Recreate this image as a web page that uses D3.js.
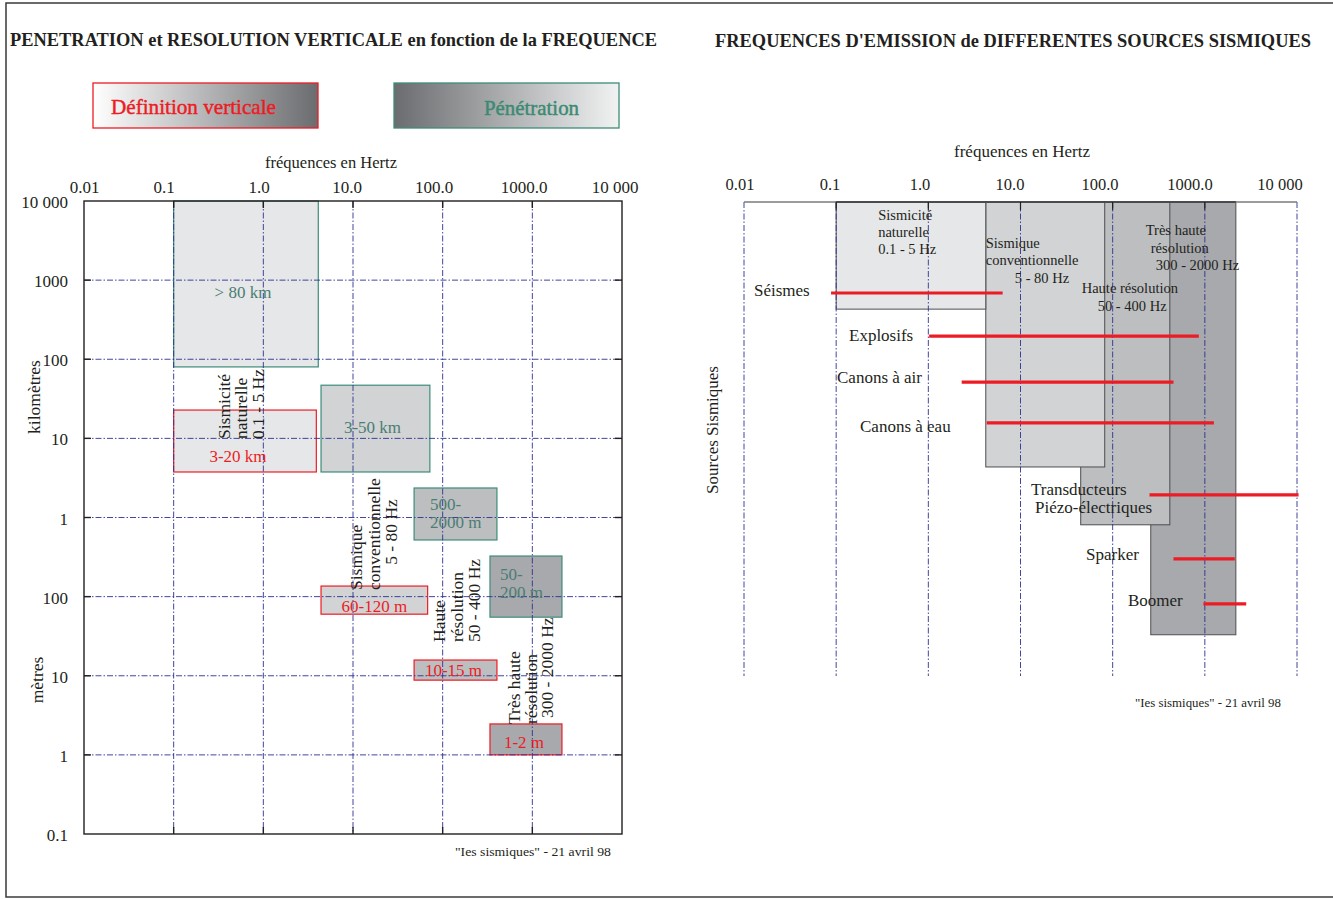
<!DOCTYPE html>
<html><head><meta charset="utf-8">
<script src="https://cdn.jsdelivr.net/npm/d3@7"></script>
<style>
body{margin:0;background:#fff}
svg{display:block}
text{font-family:"Liberation Serif","Times New Roman",Times,serif;fill:#231f20}
</style>
</head><body>
<svg id="c" width="1333" height="899" font-family="Liberation Serif, Times New Roman, serif"></svg>
<script>
// ================= DATA =================
const freqTicks = [0.01, 0.1, 1, 10, 100, 1000, 10000];
const freqTickLabels = ["0.01", "0.1", "1.0", "10.0", "100.0", "1000.0", "10 000"];
const depthTicks = [1e7, 1e6, 1e5, 1e4, 1e3, 100, 10, 1, 0.1];           // metres
const depthTickLabels = ["10 000", "1000", "100", "10", "1", "100", "10", "1", "0.1"];

const bands = ["Sismicité naturelle", "Sismique conventionnelle", "Haute résolution", "Très haute résolution"];
const bandLabelLines = [["Sismicité", "naturelle", "0.1 - 5 Hz"], ["Sismique", "conventionnelle", "5 - 80 Hz"],
                        ["Haute", "résolution", "50 - 400 Hz"], ["Très haute", "résolution", "300 - 2000 Hz"]];
// Penetration (depth in metres)
const penFreqMin = [0.1, 4.4, 48, 337];
const penFreqMax = [4.1, 72, 403, 2140];
const penDepthMin = [80000, 3760, 520, 55];
const penDepthMax = [1e7, 47000, 2360, 326];
const penLabels = [["> 80 km"], ["3-50 km"], ["500-", "2000 m"], ["50-", "200 m"]];
// Vertical definition (depth in metres)
const defFreqMin = [0.1, 4.4, 48, 337];
const defFreqMax = [3.9, 68, 403, 2140];
const defDepthMin = [3760, 60, 8.8, 1.0];
const defDepthMax = [22800, 136, 15.8, 2.46];
const defLabels = ["3-20 km", "60-120 m", "10-15 m", "1-2 m"];

// Right chart: emission bands
const emitFreqMin = [0.1, 4.2, 45, 259];
const emitFreqMax = [4.2, 82, 417, 2170];
const emitRowEnd = [2.26, 5.59, 6.81, 9.13];
const emitLabelLines = [["Sismicité", "naturelle", "0.1 - 5 Hz"], ["Sismique", "conventionnelle", "5 - 80 Hz"],
                        ["Haute résolution", "50 - 400 Hz"], ["Très haute", "résolution", "300 - 2000 Hz"]];
// Right chart: seismic sources
const sourceLabelLines = [["Séismes"], ["Explosifs"], ["Canons à air"], ["Canons à eau"],
                          ["Transducteurs", "Piézo-électriques"], ["Sparker"], ["Boomer"]];
const sourceFreqMin = [0.088, 1.02, 2.3, 4.3, 251, 457, 966];
const sourceFreqMax = [6.4, 861, 457, 1254, 10400, 2113, 2810];
const sourceRow = [1.92, 2.83, 3.8, 4.66, 6.18, 7.53, 8.48];

// ================= STYLE / LAYOUT =================
const C = {ink: "#231f20", grid: "#2e3192", red: "#ed1c24", teal: "#3d8c7a", tealText: "#4b7d73",
           fills: ["#e6e7e8", "#d1d3d4", "#bcbec0", "#a7a9ac"]};
const dash = "6,2,1.5,2";
const svg = d3.select("#c");

// outer frame
svg.append("rect").attr("x", 6).attr("y", 3).attr("width", 1334).attr("height", 894)
  .attr("fill", "none").attr("stroke", "#3a3a3a").attr("stroke-width", 1.5);

// titles
svg.append("text").attr("x", 10).attr("y", 46).attr("font-size", 19).attr("font-weight", "bold")
  .attr("textLength", 647).attr("lengthAdjust", "spacingAndGlyphs")
  .text("PENETRATION et RESOLUTION VERTICALE en fonction de la FREQUENCE");
svg.append("text").attr("x", 715).attr("y", 47).attr("font-size", 19).attr("font-weight", "bold")
  .attr("textLength", 596).attr("lengthAdjust", "spacingAndGlyphs")
  .text("FREQUENCES D'EMISSION de DIFFERENTES SOURCES SISMIQUES");

// legend
const defs = svg.append("defs");
const g1 = defs.append("linearGradient").attr("id", "gDef");
g1.append("stop").attr("offset", "0%").attr("stop-color", "#ffffff");
g1.append("stop").attr("offset", "100%").attr("stop-color", "#6b6c6f");
const g2 = defs.append("linearGradient").attr("id", "gPen");
g2.append("stop").attr("offset", "0%").attr("stop-color", "#6b6c6f");
g2.append("stop").attr("offset", "100%").attr("stop-color", "#f1f2f2");
svg.append("rect").attr("x", 93).attr("y", 83).attr("width", 225).attr("height", 45)
  .attr("fill", "url(#gDef)").attr("stroke", C.red).attr("stroke-width", 1.3);
svg.append("text").attr("x", 111).attr("y", 114).attr("font-size", 21.5)
  .style("fill", C.red).style("stroke", C.red).style("stroke-width", 0.45)
  .attr("textLength", 165).attr("lengthAdjust", "spacingAndGlyphs").text("Définition verticale");
svg.append("rect").attr("x", 394).attr("y", 83).attr("width", 225).attr("height", 45)
  .attr("fill", "url(#gPen)").attr("stroke", C.teal).attr("stroke-width", 1.3);
svg.append("text").attr("x", 484).attr("y", 115).attr("font-size", 21.5)
  .style("fill", "#3b8a73").style("stroke", "#3b8a73").style("stroke-width", 0.45)
  .attr("textLength", 95).attr("lengthAdjust", "spacingAndGlyphs").text("Pénétration");

// ================= LEFT CHART =================
const L = {x0: 84, x1: 622, y0: 201, y1: 834};
const xL = d3.scaleLog().domain([0.01, 10000]).range([L.x0, L.x1]);
const yL = d3.scaleLog().domain([0.1, 1e7]).range([L.y1, L.y0]);
// tick labels in the original sit slightly left of their grid lines
const xLlab = d3.scaleLog().domain(freqTicks).range([84.6, 164, 259, 347, 434, 524, 615]);
const gL = svg.append("g");

gL.append("text").attr("x", 331).attr("y", 168).attr("text-anchor", "middle").attr("font-size", 16.5)
  .text("fréquences en Hertz");
gL.selectAll(".xl").data(freqTicks).join("text")
  .attr("x", d => xLlab(d)).attr("y", 193).attr("text-anchor", "middle").attr("font-size", 17)
  .text((d, i) => freqTickLabels[i]);
gL.selectAll(".yl").data(depthTicks).join("text")
  .attr("x", 68).attr("y", d => yL(d) + 7).attr("text-anchor", "end").attr("font-size", 17)
  .text((d, i) => depthTickLabels[i]);
gL.append("text").attr("transform", "translate(40,397) rotate(-90)").attr("text-anchor", "middle")
  .attr("font-size", 17.5).text("kilomètres");
gL.append("text").attr("transform", "translate(43,680) rotate(-90)").attr("text-anchor", "middle")
  .attr("font-size", 17.5).text("mètres");

// boxes: penetration
bands.forEach((b, i) => {
  const x0 = xL(penFreqMin[i]), x1 = xL(penFreqMax[i]);
  const y0 = yL(penDepthMax[i]), y1 = yL(penDepthMin[i]);
  gL.append("rect").attr("x", x0).attr("y", y0).attr("width", x1 - x0).attr("height", y1 - y0)
    .attr("fill", C.fills[i]).attr("stroke", C.teal).attr("stroke-width", 1.2);
});
// boxes: definition
bands.forEach((b, i) => {
  const x0 = xL(defFreqMin[i]), x1 = xL(defFreqMax[i]);
  const y0 = yL(defDepthMax[i]), y1 = yL(defDepthMin[i]);
  gL.append("rect").attr("x", x0).attr("y", y0).attr("width", x1 - x0).attr("height", y1 - y0)
    .attr("fill", C.fills[i]).attr("stroke", C.red).attr("stroke-width", 1.2);
});

// grid
const gridL = gL.append("g").attr("stroke", C.grid).attr("stroke-width", 0.9).attr("stroke-dasharray", dash);
freqTicks.slice(1, -1).forEach(f => {
  gridL.append("line").attr("x1", xL(f)).attr("x2", xL(f)).attr("y1", L.y0).attr("y2", L.y1);
});
depthTicks.slice(1, -1).forEach(d => {
  gridL.append("line").attr("x1", L.x0).attr("x2", L.x1).attr("y1", yL(d)).attr("y2", yL(d));
});
// frame and ticks
gL.append("rect").attr("x", L.x0).attr("y", L.y0).attr("width", L.x1 - L.x0).attr("height", L.y1 - L.y0)
  .attr("fill", "none").attr("stroke", C.ink).attr("stroke-width", 1.4);
const tk = gL.append("g").attr("stroke", C.ink).attr("stroke-width", 1.4);
freqTicks.slice(1, -1).forEach(f => {
  tk.append("line").attr("x1", xL(f)).attr("x2", xL(f)).attr("y1", L.y0).attr("y2", L.y0 + 7);
  tk.append("line").attr("x1", xL(f)).attr("x2", xL(f)).attr("y1", L.y1).attr("y2", L.y1 - 7);
});
depthTicks.slice(1, -1).forEach(d => {
  tk.append("line").attr("x1", L.x0).attr("x2", L.x0 + 7).attr("y1", yL(d)).attr("y2", yL(d));
  tk.append("line").attr("x1", L.x1).attr("x2", L.x1 - 7).attr("y1", yL(d)).attr("y2", yL(d));
});

// box labels
const penDx = [-3, -3, 0, 0], penDy = [8, -2, 0, 0];
bands.forEach((b, i) => {
  const x0 = xL(penFreqMin[i]), x1 = xL(penFreqMax[i]);
  const y0 = yL(penDepthMax[i]), y1 = yL(penDepthMin[i]);
  const lines = penLabels[i];
  if (lines.length === 1) {
    gL.append("text").attr("x", (x0 + x1) / 2 + penDx[i]).attr("y", (y0 + y1) / 2 + 6 + penDy[i])
      .attr("text-anchor", "middle").attr("font-size", 17).style("fill", C.tealText).text(lines[0]);
  } else {
    const sx = i === 2 ? 16 : 10;
    lines.forEach((t, k) => {
      gL.append("text").attr("x", x0 + sx).attr("y", (y0 + y1) / 2 - 4 + k * 18 + (i === 3 ? -3 : 0))
        .attr("font-size", 17).style("fill", C.tealText).text(t);
    });
  }
});
const defDx = [-7, 0, -2, -2], defDy = [15, 6, 0, 3];
bands.forEach((b, i) => {
  const x0 = xL(defFreqMin[i]), x1 = xL(defFreqMax[i]);
  const y0 = yL(defDepthMax[i]), y1 = yL(defDepthMin[i]);
  gL.append("text").attr("x", (x0 + x1) / 2 + defDx[i]).attr("y", (y0 + y1) / 2 + 6 + defDy[i])
    .attr("text-anchor", "middle").attr("font-size", 17).style("fill", C.red).text(defLabels[i]);
});

// rotated band labels: [baseline x, start y, anchor]
const bandLabelPos = [
  [[230, 439, "start"], [247, 439, "start"], [264, 439, "start"]],
  [[362, 590, "start"], [380, 590, "start"], [397, 532, "middle"]],
  [[445, 642, "start"], [463, 642, "start"], [480, 642, "start"]],
  [[520, 724, "start"], [537, 724, "start"], [553, 718, "start"]]
];
bandLabelLines.forEach((lines, i) => {
  lines.forEach((t, k) => {
    const p = bandLabelPos[i][k];
    gL.append("text").attr("transform", `translate(${p[0]},${p[1]}) rotate(-90)`)
      .attr("text-anchor", p[2]).attr("font-size", 17.5).text(t);
  });
});
gL.append("text").attr("x", 455).attr("y", 856).attr("font-size", 13.5)
  .attr("textLength", 156).attr("lengthAdjust", "spacingAndGlyphs").text("\"Ies sismiques\" - 21 avril 98");

// ================= RIGHT CHART =================
const R = {x0: 744, x1: 1297, y0: 202, y1: 676};
const xR = d3.scaleLog().domain([0.01, 10000]).range([R.x0, R.x1]);
const xRlab = d3.scaleLog().domain([0.01, 10000]).range([740, 1280]);
const yR = d3.scaleLinear().domain([0, 10]).range([R.y0, R.y1]);
const gR = svg.append("g");

gR.append("text").attr("x", 1022).attr("y", 157).attr("text-anchor", "middle").attr("font-size", 17)
  .text("fréquences en Hertz");
gR.selectAll(".xr").data(freqTicks).join("text")
  .attr("x", d => xRlab(d)).attr("y", 190).attr("text-anchor", "middle").attr("font-size", 16.5)
  .text((d, i) => freqTickLabels[i]);
gR.append("text").attr("transform", "translate(718,430) rotate(-90)").attr("text-anchor", "middle")
  .attr("font-size", 17).text("Sources Sismiques");

// band boxes (back to front: highest frequency first)
[3, 2, 1, 0].forEach(i => {
  const x0 = xR(emitFreqMin[i]), x1 = xR(emitFreqMax[i]);
  gR.append("rect").attr("x", x0).attr("y", R.y0).attr("width", x1 - x0).attr("height", yR(emitRowEnd[i]) - R.y0)
    .attr("fill", C.fills[i]).attr("stroke", "#4d4d4f").attr("stroke-width", 1);
});
// grid
const gridR = gR.append("g").attr("stroke", C.grid).attr("stroke-width", 0.9).attr("stroke-dasharray", dash);
freqTicks.forEach(f => {
  gridR.append("line").attr("x1", xR(f)).attr("x2", xR(f)).attr("y1", R.y0).attr("y2", R.y1);
});
// axis line + ticks
gR.append("line").attr("x1", R.x0).attr("x2", R.x1).attr("y1", R.y0).attr("y2", R.y0)
  .attr("stroke", "#7a7a7c").attr("stroke-width", 1.6);
gR.append("line").attr("x1", xR(emitFreqMin[0])).attr("x2", xR(emitFreqMax[3])).attr("y1", R.y0).attr("y2", R.y0)
  .attr("stroke", "#3a3a3c").attr("stroke-width", 1.6);
freqTicks.slice(1, -1).forEach(f => {
  gR.append("line").attr("x1", xR(f)).attr("x2", xR(f)).attr("y1", R.y0).attr("y2", R.y0 + 8)
    .attr("stroke", C.ink).attr("stroke-width", 1.2);
});

// band labels: [dx from band left, dy from top] per line
const emitLabelPos = [
  [[42, 18], [42, 35], [42, 52]],
  [[0, 46], [0, 63], [29, 81]],
  [[1, 91], [17, 109]],
  [[-5, 33], [0, 51], [5, 68]]
];
emitLabelLines.forEach((lines, i) => {
  const x0 = xR(emitFreqMin[i]);
  lines.forEach((t, k) => {
    const p = emitLabelPos[i][k];
    gR.append("text").attr("x", x0 + p[0]).attr("y", R.y0 + p[1]).attr("font-size", 14.5).text(t);
  });
});

// source lines
sourceRow.forEach((r, i) => {
  gR.append("line").attr("x1", xR(sourceFreqMin[i])).attr("x2", xR(sourceFreqMax[i]))
    .attr("y1", yR(r)).attr("y2", yR(r)).attr("stroke", C.red).attr("stroke-width", 3.2);
});
// source labels: [start x, baseline dy relative to line]
const sourceLabelPos = [[754, 3], [849, 5], [837, 1], [860, 9], [1031, 0], [1086, 1], [1128, 2]];
sourceLabelLines.forEach((lines, i) => {
  lines.forEach((t, k) => {
    gR.append("text").attr("x", sourceLabelPos[i][0] + k * 4).attr("y", yR(sourceRow[i]) + sourceLabelPos[i][1] + k * 18)
      .attr("font-size", 17).text(t);
  });
});
gR.append("text").attr("x", 1135).attr("y", 707).attr("font-size", 13)
  .attr("textLength", 146).attr("lengthAdjust", "spacingAndGlyphs").text("\"Ies sismiques\" - 21 avril 98");
</script>
</body></html>
